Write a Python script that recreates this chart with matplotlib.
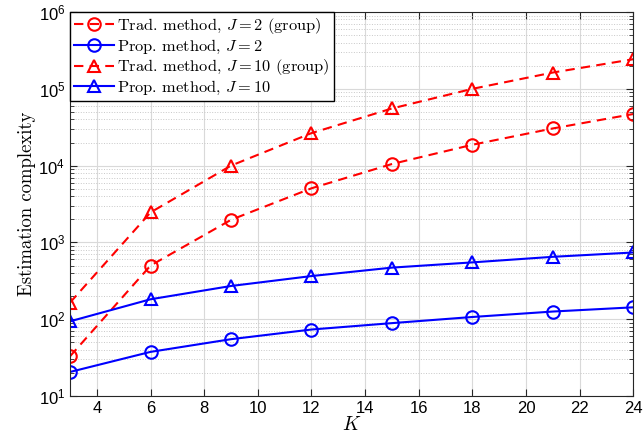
import math
import matplotlib
matplotlib.use("Agg")
import matplotlib.pyplot as plt
from matplotlib.ticker import FixedLocator, LogLocator, FuncFormatter, NullFormatter

plt.rcParams['mathtext.fontset'] = 'cm'
plt.rcParams['font.family'] = ['Liberation Sans', 'DejaVu Sans']

# data
K = [3, 6, 9, 12, 15, 18, 21, 24]
trad_j2 = [33, 500, 1970, 5070, 10500, 18700, 30500, 47000]
prop_j2 = [20.6, 37.6, 55, 73.5, 89, 107, 126, 143]
trad_j10 = [165, 2460, 10000, 26500, 55500, 100000, 163000, 243000]
prop_j10 = [94, 182, 271, 365, 470, 550, 650, 740]

labels = [r'Trad. method, $J=2$ (group)', r'Prop. method, $J=2$',
          r'Trad. method, $J=10$ (group)', r'Prop. method, $J=10$']

fig = plt.figure(figsize=(6.43, 4.45), dpi=100)
ax = fig.add_axes([0.109, 0.110, 0.876, 0.863])

red = '#ff0000'
blue = '#0000ff'
mk = dict(markersize=9, markerfacecolor='none', markeredgewidth=1.5, linewidth=1.5)

ax.plot(K, trad_j2, '--o', color=red, label=labels[0], dashes=(4.5, 3), **mk)
ax.plot(K, prop_j2, '-o', color=blue, label=labels[1], **mk)
ax.plot(K, trad_j10, '--^', color=red, label=labels[2], dashes=(4.5, 3), **mk)
ax.plot(K, prop_j10, '-^', color=blue, label=labels[3], **mk)

ax.set_yscale('log')
ax.set_xlim(3, 24)
ax.set_ylim(10, 1e6)
ax.xaxis.set_major_locator(FixedLocator(range(4, 25, 2)))
ax.yaxis.set_major_locator(LogLocator(base=10, numticks=10))
ax.yaxis.set_minor_locator(LogLocator(base=10, subs=range(2, 10), numticks=100))
ax.yaxis.set_minor_formatter(NullFormatter())
ax.yaxis.set_major_formatter(FuncFormatter(
    lambda v, p: r'$\mathregular{10^{%d}}$' % round(math.log10(v))))

ax.grid(True, which='major', color='#d9d9d9', linewidth=0.8)
ax.grid(True, which='minor', axis='y', color='#c8c8c8', linestyle=':', linewidth=0.7)
ax.set_axisbelow(True)

ax.tick_params(which='both', direction='in', top=True, right=True, labelsize=12,
               color='#262626')
ax.tick_params(which='major', length=5)
ax.tick_params(which='minor', length=3)
for s in ax.spines.values():
    s.set_color('#262626')
    s.set_linewidth(0.8)

ax.set_xlabel(r'$K$', fontsize=14, labelpad=0)
ax.set_ylabel('Estimation complexity', fontsize=13.5, family='cmr10', labelpad=2)

leg = ax.legend(loc='upper left', borderaxespad=0, fancybox=False, framealpha=1,
                edgecolor='black', handlelength=2.4, handletextpad=0.2,
                borderpad=0.25, labelspacing=0.1, prop={'family': 'cmr10', 'size': 11.8})
leg.get_frame().set_linewidth(1.0)

fig.savefig('out.png', dpi=100)
